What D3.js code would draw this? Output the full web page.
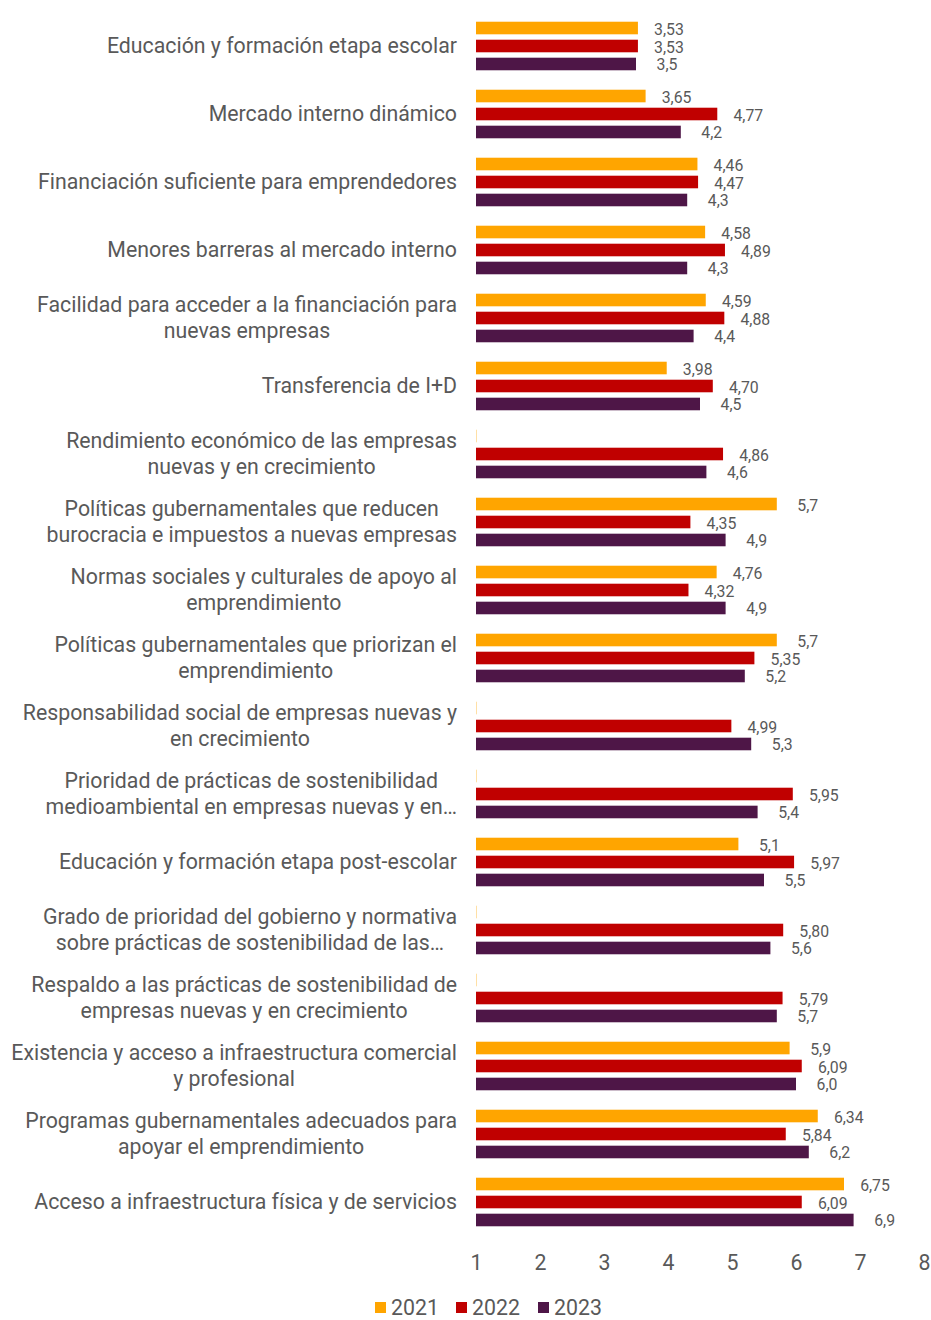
<!DOCTYPE html>
<html lang="es">
<head>
<meta charset="utf-8">
<script src="https://cdn.jsdelivr.net/npm/d3@7"></script>
<style>
  html, body { margin: 0; padding: 0; background: #ffffff; }
  svg { display: block; font-family: Roboto, "Noto Sans", sans-serif; }
</style>
</head>
<body>
<svg id="chart" width="931" height="1320"></svg>
<script>
// Category labels (line breaks as drawn)
const categories = [
  "Educación y formación etapa escolar",
  "Mercado interno dinámico",
  "Financiación suficiente para emprendedores",
  "Menores barreras al mercado interno",
  "Facilidad para acceder a la financiación para\nnuevas empresas",
  "Transferencia de I+D",
  "Rendimiento económico de las empresas\nnuevas y en crecimiento",
  "Políticas gubernamentales que reducen\nburocracia e impuestos a nuevas empresas",
  "Normas sociales y culturales de apoyo al\nemprendimiento",
  "Políticas gubernamentales que priorizan el\nemprendimiento",
  "Responsabilidad social de empresas nuevas y\nen crecimiento",
  "Prioridad de prácticas de sostenibilidad\nmedioambiental en empresas nuevas y en…",
  "Educación y formación etapa post-escolar",
  "Grado de prioridad del gobierno y normativa\nsobre prácticas de sostenibilidad de las…",
  "Respaldo a las prácticas de sostenibilidad de\nempresas nuevas y en crecimiento",
  "Existencia y acceso a infraestructura comercial\ny profesional",
  "Programas gubernamentales adecuados para\napoyar el emprendimiento",
  "Acceso a infraestructura física y de servicios"
];

const seriesNames = ["2021", "2022", "2023"];

// null = no value for that year
const values2021 = [3.53, 3.65, 4.46, 4.58, 4.59, 3.98, null, 5.7, 4.76, 5.7, null, null, 5.1, null, null, 5.9, 6.34, 6.75];
const values2022 = [3.53, 4.77, 4.47, 4.89, 4.88, 4.70, 4.86, 4.35, 4.32, 5.35, 4.99, 5.95, 5.97, 5.80, 5.79, 6.09, 5.84, 6.09];
const values2023 = [3.5, 4.2, 4.3, 4.3, 4.4, 4.5, 4.6, 4.9, 4.9, 5.2, 5.3, 5.4, 5.5, 5.6, 5.7, 6.0, 6.2, 6.9];

const xTicks = [1, 2, 3, 4, 5, 6, 7, 8];

const colors = { "2021": "#FFA500", "2022": "#C00000", "2023": "#4E1647" };

// Number formats per series, Spanish decimal comma
const fmt = {
  "2021": v => String(v).replace(".", ","),
  "2022": v => v.toFixed(2).replace(".", ","),
  "2023": v => v.toFixed(1).replace(".", ",")
};

const seriesValues = { "2021": values2021, "2022": values2022, "2023": values2023 };

const svg = d3.select("#chart");
const textColor = "#595959";
const bigFont = 21.3;

const x = d3.scaleLinear().domain([1, 8]).range([476, 924]);
const y = d3.scaleBand().domain(categories).range([12, 12 + 68 * categories.length]);
const ySub = d3.scaleBand().domain(seriesNames).range([0, y.bandwidth()])
  .paddingInner(0.3).paddingOuter(0.54);

const rows = categories.map((c, i) => ({
  cat: c,
  vals: seriesNames.map(s => ({ s, v: seriesValues[s][i] }))
}));

const groups = svg.append("g").selectAll("g.row")
  .data(rows).join("g")
  .attr("class", "row")
  .attr("transform", d => `translate(0,${y(d.cat)})`);

// Bars
groups.selectAll("rect")
  .data(d => d.vals)
  .join("rect")
  .attr("x", x(1))
  .attr("y", d => ySub(d.s))
  .attr("height", ySub.bandwidth())
  .attr("width", d => d.v == null ? 1 : x(d.v) - x(1))
  .attr("fill", d => colors[d.s])
  .attr("opacity", d => d.v == null ? 0.35 : 1);

// Value labels
groups.selectAll("text.val")
  .data(d => d.vals.filter(e => e.v != null))
  .join("text")
  .attr("class", "val")
  .attr("x", d => x(d.v) + 31)
  .attr("y", d => ySub(d.s) + ySub.bandwidth() / 2 + 1)
  .attr("text-anchor", "middle")
  .attr("dominant-baseline", "central")
  .attr("font-size", 15.8)
  .attr("fill", textColor)
  .text(d => fmt[d.s](d.v));

// Category labels: lines centered with each other, block right-aligned
const labelRight = 457;
const lineH = 26;
groups.each(function (d) {
  const g = d3.select(this);
  const lines = d.cat.split("\n");
  const t = g.append("text")
    .attr("font-size", bigFont)
    .attr("fill", textColor)
    .attr("text-anchor", "middle");
  const spans = lines.map((ln, k) => t.append("tspan")
    .attr("dominant-baseline", "central")
    .attr("y", y.bandwidth() / 2 - 0.5 + (k - (lines.length - 1) / 2) * lineH)
    .text(ln));
  const widths = spans.map(sp => sp.node().getComputedTextLength());
  const maxW = d3.max(widths);
  spans.forEach(sp => sp.attr("x", labelRight - maxW / 2));
});

// X axis (labels only)
const axis = svg.append("g")
  .attr("transform", `translate(0,1255)`)
  .call(d3.axisBottom(x).tickValues(xTicks).tickSize(0).tickPadding(0).tickFormat(d3.format("d")));
axis.select(".domain").remove();
axis.selectAll("text")
  .attr("font-size", bigFont)
  .attr("font-family", "Roboto, 'Noto Sans', sans-serif")
  .attr("fill", textColor);

// Legend
const legendX = [375, 456, 538];
const legend = svg.append("g").attr("transform", "translate(0,1307)");
seriesNames.forEach((s, i) => {
  legend.append("rect")
    .attr("x", legendX[i]).attr("y", -5)
    .attr("width", 11).attr("height", 11)
    .attr("fill", colors[s]);
  legend.append("text")
    .attr("x", legendX[i] + 16).attr("y", 0)
    .attr("dominant-baseline", "central")
    .attr("font-size", bigFont)
    .attr("fill", textColor)
    .text(s);
});
</script>
</body>
</html>
